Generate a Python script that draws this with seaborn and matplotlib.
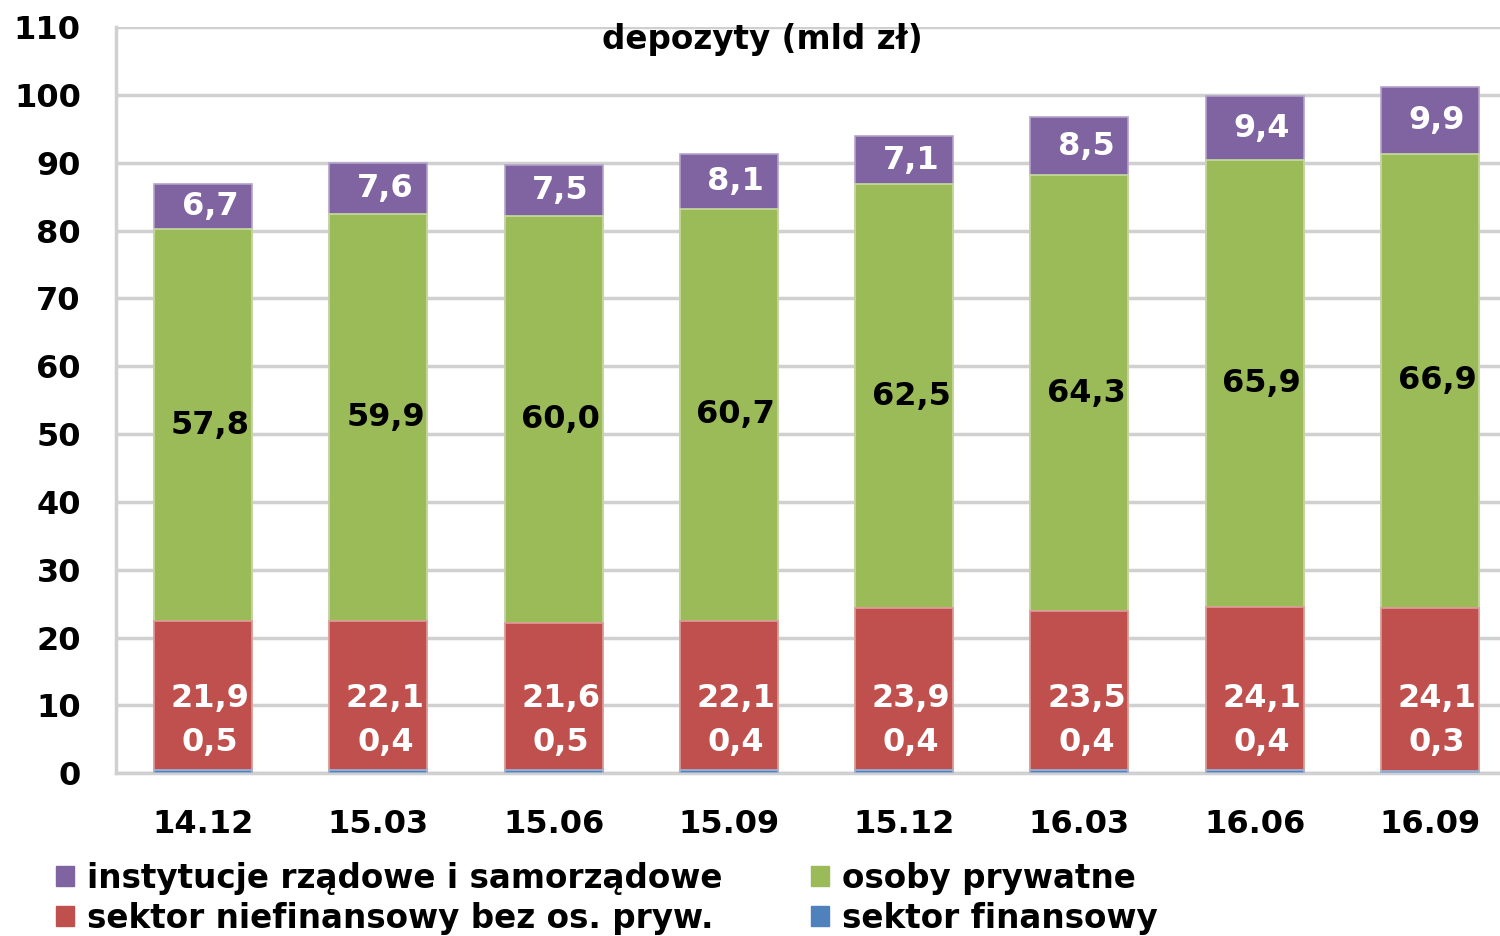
import matplotlib
matplotlib.use("Agg")
import matplotlib.pyplot as plt
import seaborn as sns
import numpy as np
import pandas as pd
from matplotlib.patches import Patch

sns.set_style("white")
plt.rcParams['font.family'] = ['DejaVu Sans']
plt.rcParams['text.color'] = 'black'
plt.rcParams['xtick.labelcolor'] = 'black'
plt.rcParams['ytick.labelcolor'] = 'black'

# Dane
okresy = ['14.12', '15.03', '15.06', '15.09', '15.12', '16.03', '16.06', '16.09']
sektor_finansowy = [0.5, 0.4, 0.5, 0.4, 0.4, 0.4, 0.4, 0.3]
sektor_niefinansowy = [21.9, 22.1, 21.6, 22.1, 23.9, 23.5, 24.1, 24.1]
osoby_prywatne = [57.8, 59.9, 60.0, 60.7, 62.5, 64.3, 65.9, 66.9]
instytucje = [6.7, 7.6, 7.5, 8.1, 7.1, 8.5, 9.4, 9.9]

kolory = {'fin': '#4F81BD', 'niefin': '#C0504D', 'pryw': '#9BBB59', 'inst': '#8064A2'}
krawedzie = {'fin': '#9DB5D8', 'niefin': '#DE9C9A', 'pryw': '#C8DBA0', 'inst': '#B3A3C9'}

df = pd.DataFrame({'okres': okresy, 'fin': sektor_finansowy, 'niefin': sektor_niefinansowy,
                   'pryw': osoby_prywatne, 'inst': instytucje})
warstwy = ['fin', 'niefin', 'pryw', 'inst']
cum = df[warstwy].cumsum(axis=1)

fig = plt.figure(figsize=(15, 9.36), dpi=100)
ax = fig.add_axes([0.077, 0.174, 0.923, 0.797])

# Rysowanie od góry (suma) do dołu
for w in reversed(warstwy):
    sns.barplot(x=df['okres'], y=cum[w], color=kolory[w], width=0.56,
                edgecolor=krawedzie[w], linewidth=1.2, saturation=1, ax=ax, zorder=3)

# Etykiety wartości
fs = 23
for i in range(len(okresy)):
    dx = 0.04
    ax.text(i + dx, cum.loc[i, 'pryw'] + df.loc[i, 'inst'] / 2, f"{df.loc[i, 'inst']:.1f}".replace('.', ','),
            ha='center', va='center', color='white', fontsize=fs, fontweight='bold', zorder=5)
    ax.text(i + dx, cum.loc[i, 'niefin'] + df.loc[i, 'pryw'] / 2, f"{df.loc[i, 'pryw']:.1f}".replace('.', ','),
            ha='center', va='center', color='black', fontsize=fs, fontweight='bold', zorder=5)
    ax.text(i + dx, 11.0, f"{df.loc[i, 'niefin']:.1f}".replace('.', ','),
            ha='center', va='center', color='white', fontsize=fs, fontweight='bold', zorder=5)
    ax.text(i + dx, 4.5, f"{df.loc[i, 'fin']:.1f}".replace('.', ','),
            ha='center', va='center', color='white', fontsize=fs, fontweight='bold', zorder=5)

ax.set_yticks(np.arange(0, 111, 10))
ax.set_xticks(np.arange(-0.5, 7.0, 1), minor=True)
ax.set_ylim(0, 110)
ax.set_xlim(-0.5, 7.4)
ax.set_xlabel('')
ax.set_ylabel('')
ax.grid(axis='y', color='#D0D0D0', linewidth=2.5, zorder=0)
ax.set_axisbelow(True)

for s in ['top', 'right']:
    ax.spines[s].set_visible(False)
ax.spines['left'].set_color('#D0D0D0')
ax.spines['left'].set_linewidth(2.5)
ax.spines['bottom'].set_color('#D0D0D0')
ax.spines['bottom'].set_linewidth(2.5)

ax.tick_params(axis='y', length=15, width=2.5, color='#D0D0D0', pad=10, labelsize=23)
ax.tick_params(axis='x', length=0, pad=26, labelsize=23)
ax.tick_params(axis='x', which='minor', length=14, width=2.5, color='#D0D0D0')
for lab in ax.get_xticklabels() + ax.get_yticklabels():
    lab.set_fontweight('bold')

ax.text(0.467, 0.983, 'depozyty (mld zł)', transform=ax.transAxes, ha='center', va='center',
        fontsize=23.5, fontweight='bold')

uchwyty = [Patch(color=kolory['inst'], label='instytucje rządowe i samorządowe'),
           Patch(color=kolory['niefin'], label='sektor niefinansowy bez os. pryw.'),
           Patch(color=kolory['pryw'], label='osoby prywatne'),
           Patch(color=kolory['fin'], label='sektor finansowy')]
fig.legend(handles=uchwyty, loc='lower left', bbox_to_anchor=(0.018, -0.03), ncol=2, frameon=False,
           prop={'size': 23.5, 'weight': 'bold'}, handlelength=0.55, handleheight=0.55,
           handletextpad=0.4, columnspacing=2.7, labelspacing=0.22)

fig.savefig('out.png', dpi=100)
